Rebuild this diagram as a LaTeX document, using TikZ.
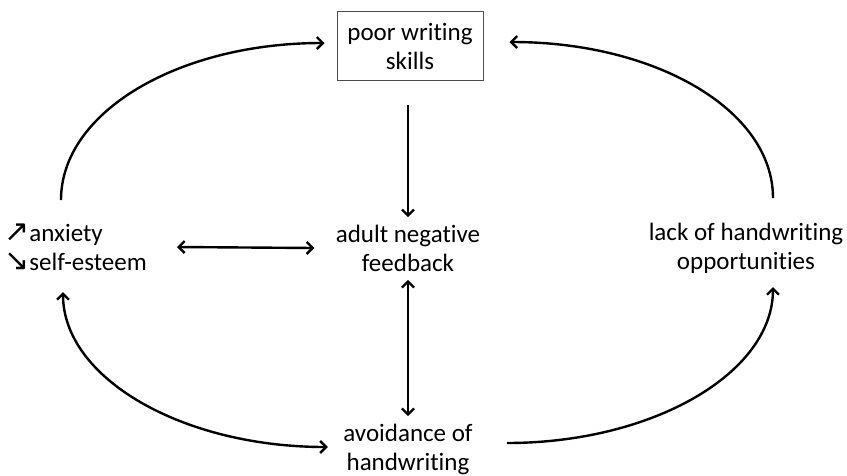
\documentclass[tikz,border=0pt]{standalone}
\usepackage{fontspec}
\setmainfont{Carlito}[Ligatures={NoCommon}]
\newfontfamily\arrfont{DejaVu Sans}
\usetikzlibrary{arrows.meta}
\newcommand{\updown}[1]{{\arrfont\fontsize{30}{29}\selectfont #1}}

\begin{document}
\begin{tikzpicture}[x=1pt,y=-1pt,
    lbl/.style={align=center,font=\fontsize{25}{29}\selectfont},
    arr/.style={line width=2.4pt,-{Straight Barb[length=6pt,width=12pt,line width=2.4pt]}},
    darr/.style={line width=2.4pt,{Straight Barb[length=6pt,width=12pt,line width=2.4pt]}-{Straight Barb[length=6pt,width=12pt,line width=2.4pt]}}]
    \useasboundingbox (0,0) rectangle (847,475);
    % boxes
    \node[lbl,draw=black!70,line width=1pt,minimum width=146pt,minimum height=69pt] (poor) at (410,46) {poor writing\\skills};
    \node[lbl] (feedback) at (408,248) {adult negative\\feedback};
    \node[lbl] (avoid) at (408,449) {avoidance of\\handwriting};
    \node[lbl,align=left,anchor=west,inner sep=0pt] (anx) at (4,247) {\updown{↗}anxiety\\\updown{↘}self-esteem};
    \node[lbl] (lack) at (746,248) {lack of handwriting\\opportunities};

    % loop ends
    \coordinate (tl) at (61,200);
    \coordinate (tr) at (773,198);
    \coordinate (bl) at (63,292);
    \coordinate (br) at (507,443);
    \coordinate (brend) at (773,287);

    % straight arrows
    \draw[arr] (408,105) -- ([yshift=4pt]feedback.north);
    \draw[darr] ([xshift=30pt]anx.east) -- ([xshift=-18pt]feedback.west);
    \draw[darr] ([yshift=-5pt]feedback.south) -- ([yshift=4pt]avoid.north);

    % loops
    \draw[arr] (tl) .. controls +(0,-88) and +(-146,0) .. ([xshift=-12pt,yshift=3pt]poor.west);
    \draw[arr] (tr) .. controls +(0,-88) and +(146,0) .. ([xshift=26pt,yshift=4pt]poor.east);
    \draw[darr] (bl) .. controls +(0,86) and +(-146,0) .. ([xshift=-12pt,yshift=2pt]avoid.west);
    \draw[arr] (br) .. controls +(146,0) and +(0,86) .. (brend);
\end{tikzpicture}
\end{document}
